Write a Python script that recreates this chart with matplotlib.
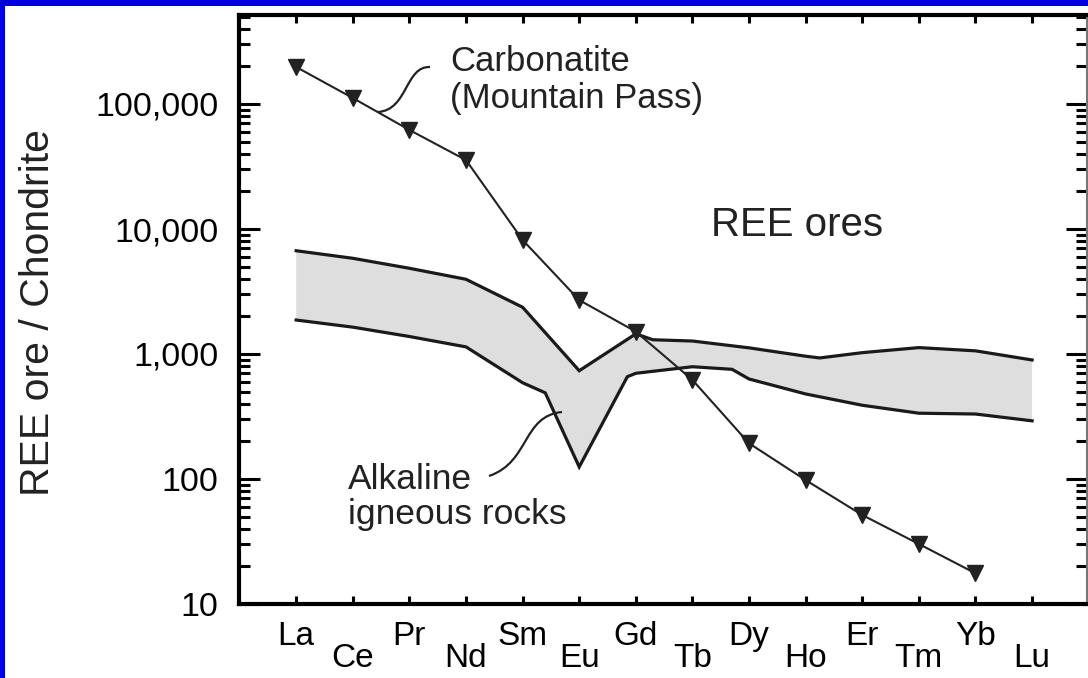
import matplotlib
matplotlib.use("Agg")
import matplotlib.pyplot as plt
import numpy as np
from matplotlib.patches import Rectangle, PathPatch
from matplotlib.path import Path

plt.rcParams['font.family'] = ['Liberation Sans', 'DejaVu Sans']

# ---- data ----
elements = ["La", "Ce", "Pr", "Nd", "Sm", "Eu", "Gd", "Tb", "Dy", "Ho", "Er", "Tm", "Yb", "Lu"]
carbonatite = [197700, 111700, 62000, 35600, 8170, 2700, 1510, 620, 193, 98, 51.5, 30.2, 17.6]

band_upper_x = [0, 1, 2, 3, 4, 5, 6, 6.3, 7, 8, 9, 9.25, 10, 11, 12, 13]
band_upper = [6700, 5830, 4850, 3960, 2366, 735, 1450, 1300, 1270, 1120, 960, 930, 1025, 1125, 1060, 896]
band_lower_x = [0, 1, 2, 3, 4, 4.4, 5, 5.85, 6, 7, 7.7, 8, 9, 10, 11, 12, 13]
band_lower = [1870, 1640, 1380, 1140, 589, 489, 125, 658, 701, 791, 754, 631, 479, 389, 336, 331, 292]

ytick_vals = [10, 100, 1000, 10000, 100000]
ytick_labels = ["10", "100", "1,000", "10,000", "100,000"]

# ---- figure ----
fig = plt.figure(figsize=(10.88, 6.78), dpi=100)
fig.patch.set_facecolor("white")
ax = fig.add_axes([239/1088, 74/678, 848/1088, 589/678])

# blue frame
fig.patches.append(Rectangle((0, 0), 5/1088, 1, transform=fig.transFigure,
                             facecolor="#0000ee", edgecolor="none", zorder=10))
fig.patches.append(Rectangle((0, 1 - 6/678), 1, 6/678, transform=fig.transFigure,
                             facecolor="#0000dd", edgecolor="none", zorder=10))

# band
poly_x = list(band_upper_x) + list(band_lower_x[::-1])
poly_y = list(band_upper) + list(band_lower[::-1])
ax.fill(poly_x, poly_y, color="#dedede", edgecolor="none", zorder=1)
ax.plot(band_upper_x, band_upper, color="#1a1a1a", lw=2.3, zorder=2, solid_joinstyle="miter")
ax.plot(band_lower_x, band_lower, color="#1a1a1a", lw=2.3, zorder=2, solid_joinstyle="miter")

# carbonatite
xc = np.arange(len(carbonatite))
ax.plot(xc, carbonatite, color="#222222", lw=1.5, marker="v", ms=11,
        markerfacecolor="#222222", markeredgecolor="#222222", zorder=3)

ax.set_yscale("log")
ax.set_xlim(-1.01, 13.97)
ax.set_ylim(10, 10 ** (1 + 589/125))

# y ticks
ax.set_yticks(ytick_vals, labels=ytick_labels)
ax.yaxis.set_minor_locator(matplotlib.ticker.LogLocator(base=10, subs=np.arange(2, 10)))
ax.yaxis.set_minor_formatter(matplotlib.ticker.NullFormatter())
ax.tick_params(axis="y", which="major", direction="in", length=15, width=2.2,
               labelsize=24.5, pad=15, right=True)
ax.tick_params(axis="y", which="minor", direction="in", length=8, width=2.2, right=True)

# x ticks: alternating heights
even = list(range(0, len(elements), 2))
odd = list(range(1, len(elements), 2))
ax.set_xticks(even, labels=[elements[i] for i in even])
ax.set_xticks(odd, labels=[elements[i] for i in odd], minor=True)
ax.tick_params(axis="x", which="major", direction="in", length=6, width=2.2,
               labelsize=24, pad=12, top=True)
ax.tick_params(axis="x", which="minor", direction="in", length=6, width=2.2,
               labelsize=24, pad=28, top=True)

for s in ["left", "bottom", "top"]:
    ax.spines[s].set_linewidth(3)
    ax.spines[s].set_color("black")
ax.spines["right"].set_linewidth(1.5)
ax.spines["right"].set_color("#777777")

# y label
fig.text(38/1088, 1 - 312/678, "REE ore / Chondrite", rotation=90,
         ha="center", va="center", fontsize=29.5, color="#222222")

# annotations
ax.text(0.2488, 0.8896, "Carbonatite\n(Mountain Pass)", transform=ax.transAxes,
        ha="left", va="center", fontsize=25, color="#222222", linespacing=1.12)
ax.text(0.6586, 0.6435, "REE ores", transform=ax.transAxes,
        ha="center", va="center", fontsize=29, color="#222222")
ax.text(0.1285, 0.182, "Alkaline\nigneous rocks", transform=ax.transAxes,
        ha="left", va="center", fontsize=25.5, color="#222222", linespacing=1.1)

def px2ax(px, py):
    return ((px - 239) / 848, (604 - py) / 589)

def leader(pts):
    verts = [px2ax(*p) for p in pts]
    path = Path(verts, [Path.MOVETO, Path.CURVE4, Path.CURVE4, Path.CURVE4])
    ax.add_patch(PathPatch(path, transform=ax.transAxes, facecolor="none",
                           edgecolor="#222222", lw=1.6, zorder=4))

leader([(430, 67), (405, 66), (408, 110), (378, 112)])
leader([(562, 412), (522, 416), (530, 462), (489, 476)])

fig.savefig("out.png", dpi=100)
